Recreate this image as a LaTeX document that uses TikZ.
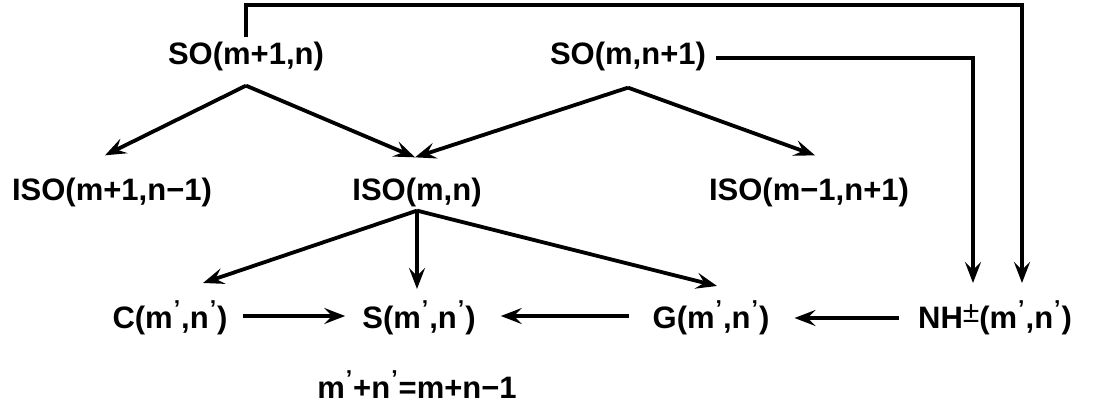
\documentclass[tikz,border=0pt]{standalone}
\usepackage{fontspec}
\setmainfont{Liberation Sans}
\usetikzlibrary{arrows.meta}

\newcommand{\pr}{\raisebox{12pt}{\fontsize{23}{23}\selectfont\kern1pt'\kern1pt}}

\begin{document}
\begin{tikzpicture}[x=1pt,y=-1pt,
  lbl/.style={font=\bfseries\fontsize{31}{37}\selectfont, inner sep=0pt, anchor=base},
  arr/.style={line width=3.8pt,-{Stealth[length=21pt,width=16pt,inset=8pt]}}]
  \useasboundingbox (0,0) rectangle (1097,404);
  % groups
  \node[lbl] (so1) at (246,65) {SO(m+1,n)};
  \node[lbl] (so2) at (628,65) {SO(m,n+1)};
  \node[lbl] (iso1) at (112,200) {ISO(m+1,n\textminus1)};
  \node[lbl] (iso2) at (417,200) {ISO(m,n)};
  \node[lbl] (iso3) at (809,200) {ISO(m\textminus1,n+1)};
  \node[lbl] (c) at (170,328) {C(m\pr,n\pr)};
  \node[lbl] (s) at (419,328) {S(m\pr,n\pr)};
  \node[lbl] (g) at (711,328) {G(m\pr,n\pr)};
  \node[lbl] (nh) at (995,328) {NH\raisebox{6pt}{\fontsize{30}{30}\selectfont\mdseries\textpm}(m\pr,n\pr)};
  \node[lbl] (eq) at (417,398) {m\pr+n\pr=m+n\textminus1};
  % contractions
  \draw[arr] ([yshift=-14pt]so1.south) -- ([xshift=-7pt,yshift=22pt]iso1.north);
  \draw[arr] ([yshift=-14pt]so1.south) -- ([xshift=-2pt,yshift=20pt]iso2.north);
  \draw[arr] ([yshift=-16pt]so2.south) -- ([xshift=-2pt,yshift=20pt]iso2.north);
  \draw[arr] ([yshift=-16pt]so2.south) -- ([xshift=6pt,yshift=22pt]iso3.north);
  \draw[arr] ([yshift=-4pt]iso2.south) -- ([xshift=33pt,yshift=17pt]c.north);
  \draw[arr] ([yshift=-4pt]iso2.south) -- ([xshift=-2pt,yshift=11pt]s.north);
  \draw[arr] ([yshift=-4pt]iso2.south) -- ([xshift=6pt,yshift=14pt]g.north);
  % bottom row
  \draw[arr] ([xshift=15pt,yshift=12pt]c.base east) -- ([xshift=-17pt,yshift=12pt]s.base west);
  \draw[arr] ([xshift=-23pt,yshift=12pt]g.base west) -- ([xshift=25pt,yshift=12pt]s.base east);
  \draw[arr] ([xshift=-19pt,yshift=10pt]nh.base west) -- ([xshift=25pt,yshift=10pt]g.base east);
  % long arrows
  \draw[arr] ([xshift=10pt,yshift=7pt]so2.base east) -| ([xshift=-22pt,yshift=17pt]nh.north);
  \draw[arr] ([yshift=5pt]so1.north) -- ++(0,-32) -| ([xshift=27pt,yshift=17pt]nh.north);
\end{tikzpicture}
\end{document}
